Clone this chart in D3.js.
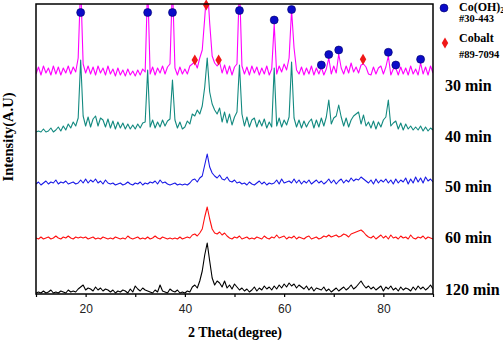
<!DOCTYPE html>
<html><head><meta charset="utf-8">
<script src="https://cdn.jsdelivr.net/npm/d3@7"></script>
<style>
html,body{margin:0;padding:0;background:#fff;}
svg{display:block;}
</style>
</head><body>
<svg id="chart" width="503" height="340"></svg>
<script>
// 2-theta grid: 10 to 90 degrees, step 0.5
const xStart = 10, xStep = 0.5, xCount = 161;
const twoTheta = d3.range(xCount).map(i => xStart + i * xStep);

// Series heights above each trace's own baseline (arbitrary units)
const series30 = [
  4,11,3,12,5,10,3,12,4,11,
  3,10,5,12,4,11,6,20,
  95,14,
  5,12,4,11,3,12,5,10,3,12,
  4,9,2,10,3,8,2,9,3,7,
  2,8,3,9,6,
  95,
  4,11,3,10,
  5,12,4,11,14,
  95,
  10,3,11,4,
  9,4,12,14,
  16,10,20,28,60,
  95,
  55,22,15,12,
  16,5,13,4,12,3,11,14,
  95,
  12,4,11,3,12,5,11,3,10,4,12,3,9,
  54,
  4,12,6,14,8,20,
  68,
  30,8,4,11,3,10,4,12,3,10,4,
  11,
  3,9,
  20,
  4,12,5,
  24,
  10,4,12,5,15,6,11,
  5,13,14,11,4,
  3,11,4,10,12,4,11,
  22,
  3,9,
  10,
  3,11,4,10,3,12,4,9,3,
  15,
  4,11,3,12,5
];
const series40 = [
  0,1,0,3,0,1,4,0,2,5,
  1,6,2,8,4,10,6,14,
  72,16,
  6,15,5,13,16,6,14,12,5,13,
  4,11,3,10,4,9,3,8,3,7,
  3,8,4,9,10,
  62,
  5,12,4,10,
  5,12,6,11,13,
  52,
  12,4,10,3,
  5,11,8,18,
  16,22,18,26,45,
  74,
  40,28,22,18,
  24,10,20,9,18,7,15,20,
  67,
  18,6,15,5,12,14,5,12,6,13,4,10,5,
  64,
  6,14,5,12,7,15,
  70,
  14,5,12,4,11,5,10,13,4,12,5,
  14,
  6,15,
  32,
  8,14,16,
  27,
  15,6,14,5,12,16,18,
  20,8,17,6,10,
  4,11,3,10,5,12,15,
  32,
  6,9,
  11,
  3,9,2,8,3,6,2,5,2,
  6,
  1,5,1,4,2
];
const series50 = [
  1,3,0,2,4,1,3,2,5,1,
  3,2,4,1,2,3,1,2,
  5,2,
  6,2,5,3,6,2,4,1,5,2,
  1,2,0,1,2,0,1,3,1,0,
  2,1,3,0,2,
  1,
  3,2,4,1,
  5,2,3,1,0,
  1,
  2,0,1,0,
  1,0,2,5,
  6,3,7,9,20,
  31,
  18,12,9,7,
  10,6,5,8,4,3,5,2,
  3,
  1,2,0,3,1,0,2,4,1,3,0,2,1,
  2,
  5,1,6,2,3,4,
  2,
  6,2,5,1,4,2,5,1,3,5,2,
  4,
  1,3,
  6,
  2,5,1,
  4,
  6,2,5,3,7,4,6,
  5,8,6,4,2,
  5,1,6,2,5,3,6,
  2,
  5,1,
  6,
  2,5,3,7,1,6,2,8,3,
  7,
  2,8,4,6,3
];
const series60 = [
  1,0,2,0,1,2,0,1,3,1,
  0,2,1,3,1,0,2,1,
  2,1,
  2,0,1,2,0,1,0,2,1,0,
  1,0,2,1,0,1,0,3,1,0,
  1,2,0,1,0,
  2,
  0,1,3,1,
  0,2,1,0,1,
  0,
  1,0,2,0,
  1,2,1,4,
  5,3,6,10,22,
  32,
  20,10,6,5,
  7,4,6,3,1,0,2,1,
  3,
  0,1,2,0,1,0,2,1,0,3,1,0,2,
  1,
  4,1,2,3,0,2,
  1,
  3,0,2,1,0,2,3,0,1,2,0,
  1,
  3,2,
  4,
  2,3,4,
  2,
  3,5,4,2,5,6,7,
  8,9,7,4,2,
  1,3,0,2,4,1,3,
  0,
  4,1,
  2,
  0,3,1,2,0,4,1,0,2,
  1,
  3,0,2,1,0
];
const series120 = [
  0,1,0,2,0,1,3,0,1,0,
  2,1,0,3,1,2,1,4,
  6,8,
  3,5,4,2,6,3,5,2,4,3,
  1,3,0,2,1,3,2,0,4,1,
  7,4,2,5,3,
  2,
  1,0,3,1,
  8,2,1,0,4,
  2,
  1,3,0,1,
  0,2,1,6,
  8,5,12,22,38,
  50,
  32,15,8,12,
  10,6,12,5,8,4,9,6,
  3,
  5,2,4,1,3,6,2,5,3,7,4,6,3,
  7,
  4,8,5,9,6,10,
  7,
  9,5,8,6,4,7,3,6,2,5,4,
  3,
  6,2,
  4,
  1,3,5,
  2,
  4,6,3,5,8,4,6,
  9,12,8,5,7,
  4,6,3,5,7,2,6,
  4,
  7,3,
  5,
  2,6,3,5,4,2,6,3,7,
  4,
  6,3,5,8,4
];

const seriesNames = ["30 min", "40 min", "50 min", "60 min", "120 min"];
const seriesData = [series30, series40, series50, series60, series120];
const seriesOffsets = [216, 162, 109, 55, 1];
const seriesColors = ["#ff00ff", "#138a80", "#1a1ae6", "#ff1010", "#000000"];

// Phase markers (2theta, intensity position)
const cohX = [19.0, 32.5, 37.5, 51.0, 58.0, 61.5, 67.5, 69.0, 71.0, 81.0, 82.5, 87.5];
const cohY = [281.5, 281.5, 281.5, 283.5, 274, 284.5, 229, 239.5, 244, 241.7, 229, 234.7];
const coX = [44.3, 42.0, 46.8, 75.9];
const coY = [289, 234, 234, 234.7];

const xTicks = [10, 20, 30, 40, 50, 60, 70, 80, 90];
const xTickLabels = [20, 40, 60, 80];

// ---------- drawing ----------
const svg = d3.select("#chart");
const L = 36, R = 433, T = 4, B = 294;
const x = d3.scaleLinear().domain([10, 90]).range([L, R]);
const y = d3.scaleLinear().domain([0, 290]).range([B, T]);

svg.append("defs").append("clipPath").attr("id", "plotclip")
  .append("rect").attr("x", L).attr("y", T).attr("width", R - L).attr("height", B - T);

const g = svg.append("g").attr("clip-path", "url(#plotclip)");
const line = d3.line().x(d => x(d[0])).y(d => y(d[1]));

seriesData.forEach((s, k) => {
  const pts = twoTheta.map((t, i) => [t, seriesOffsets[k] + s[i]]);
  g.append("path").datum(pts)
    .attr("fill", "none")
    .attr("stroke", seriesColors[k])
    .attr("stroke-width", 1.1)
    .attr("stroke-linejoin", "round")
    .attr("d", line);
});

// markers
svg.append("g").selectAll("circle").data(cohX).join("circle")
  .attr("cx", d => x(d))
  .attr("cy", (d, i) => y(cohY[i]))
  .attr("r", 4)
  .attr("fill", "#0b0bc8")
  .attr("stroke", "#000066")
  .attr("stroke-width", 0.6);

const diamond = d3.symbol().type(d3.symbolDiamond).size(36);
svg.append("g").selectAll("path").data(coX).join("path")
  .attr("transform", (d, i) => `translate(${x(d)},${y(coY[i])})`)
  .attr("d", diamond)
  .attr("fill", "#f01818");

// frame
svg.append("rect").attr("x", L).attr("y", T).attr("width", R - L).attr("height", B - T)
  .attr("fill", "none").attr("stroke", "#000").attr("stroke-width", 1.5);

// x axis ticks
const xAxis = d3.axisBottom(x).tickValues(xTicks)
  .tickSize(3).tickFormat(d => xTickLabels.includes(d) ? d : "");
const ax = svg.append("g").attr("transform", `translate(0,${B})`).call(xAxis);
ax.select(".domain").remove();
ax.selectAll(".tick line").attr("stroke", "#000").attr("stroke-width", 1.2);
ax.selectAll(".tick text")
  .attr("font-family", "'Liberation Sans', Arial, sans-serif")
  .attr("font-size", 12).attr("fill", "#222").attr("dy", "1.05em");

// axis labels
svg.append("text").attr("x", 235).attr("y", 337)
  .attr("text-anchor", "middle")
  .attr("font-family", "'Liberation Serif', 'Times New Roman', serif")
  .attr("font-weight", "bold").attr("font-size", 14)
  .text("2 Theta(degree)");
svg.append("text")
  .attr("transform", "translate(13,137) rotate(-90)")
  .attr("text-anchor", "middle")
  .attr("font-family", "'Liberation Serif', 'Times New Roman', serif")
  .attr("font-weight", "bold").attr("font-size", 14.5)
  .text("Intensity(A.U)");

// series labels at right
const labelY = [91, 142, 192, 243, 295];
svg.append("g").selectAll("text").data(seriesNames).join("text")
  .attr("x", 445).attr("y", (d, i) => labelY[i])
  .attr("font-family", "'Liberation Serif', 'Times New Roman', serif")
  .attr("font-weight", "bold").attr("font-size", 16)
  .text(d => d);

// legend
const serif = "'Liberation Serif', 'Times New Roman', serif";
svg.append("circle").attr("cx", 444).attr("cy", 8).attr("r", 4)
  .attr("fill", "#0b0bc8").attr("stroke", "#000066").attr("stroke-width", 0.6);
const t1 = svg.append("text").attr("x", 459).attr("y", 11)
  .attr("font-family", serif).attr("font-weight", "bold").attr("font-size", 12);
t1.append("tspan").text("Co(OH)");
t1.append("tspan").attr("font-size", 8).attr("dy", 2).text("2");
svg.append("text").attr("x", 459).attr("y", 22)
  .attr("font-family", serif).attr("font-size", 10.5).attr("font-weight", "bold")
  .text("#30-443");
svg.append("path").attr("transform", "translate(445,43)").attr("d", diamond).attr("fill", "#f01818");
svg.append("text").attr("x", 459).attr("y", 42)
  .attr("font-family", serif).attr("font-weight", "bold").attr("font-size", 12)
  .text("Cobalt");
svg.append("text").attr("x", 459).attr("y", 58)
  .attr("font-family", serif).attr("font-size", 10.5).attr("font-weight", "bold")
  .text("#89-7094");
</script>
</body></html>
